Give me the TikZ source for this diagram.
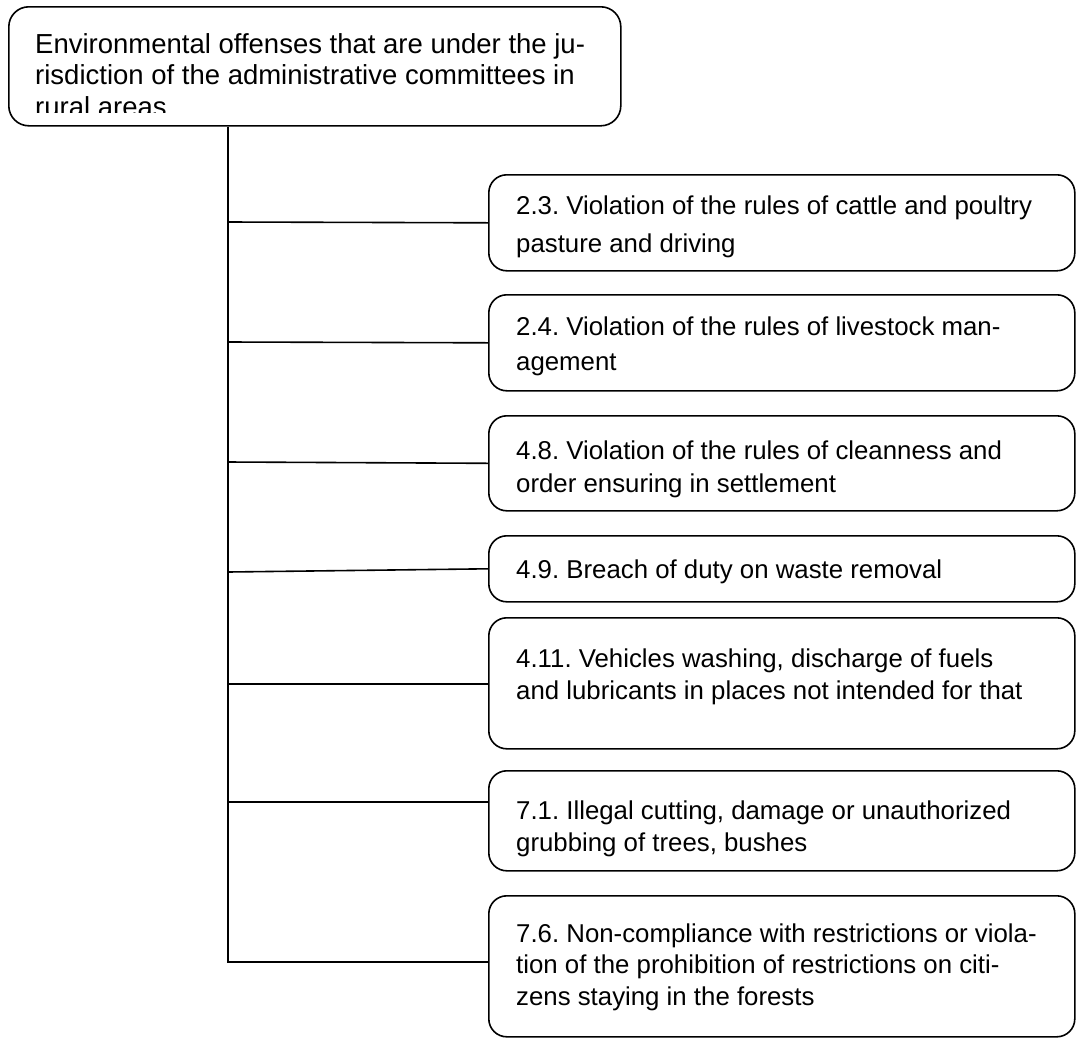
\documentclass[tikz,border=0pt]{standalone}
\usepackage{fontspec}
\setmainfont{Liberation Sans}
\begin{document}
\frenchspacing
\begin{tikzpicture}[x=1pt,y=-1pt,
  frame/.style={draw=black, line width=1.6pt, rounded corners=18pt, inner sep=0pt, anchor=north west},
  txt/.style={anchor=base west, inner sep=0pt, align=left, font=\fontsize{25.8}{31.3}\selectfont},
  wire/.style={draw=black, line width=1.6pt}]
\useasboundingbox (0,0) rectangle (1076,1037);
\fill[white] (0,0) rectangle (1076,1037);

% root box; its last text line is cut by the lower margin
\node[frame, rounded corners=20pt, minimum width=612pt, minimum height=119pt] (root) at (8,6) {};
\begin{scope}
  \clip (8,6) rectangle (620,112);
  \node[txt, font=\fontsize{27.5}{31.5}\selectfont] (roottext) at (35,116) {Environmental offenses that are under the ju-\\risdiction of the administrative committees in\\rural areas};
\end{scope}

% category boxes
\node[frame, minimum width=586pt, minimum height=96pt]  (b1) at (488,174) {};
\node[frame, minimum width=586pt, minimum height=96pt]  (b2) at (488,294) {};
\node[frame, minimum width=586pt, minimum height=95pt]  (b3) at (488,415) {};
\node[frame, minimum width=586pt, minimum height=66pt]  (b4) at (488,535) {};
\node[frame, minimum width=586pt, minimum height=131pt] (b5) at (488,617) {};
\node[frame, minimum width=586pt, minimum height=100pt] (b6) at (488,770) {};
\node[frame, minimum width=586pt, minimum height=141pt] (b7) at (488,895) {};

% texts, placed by the baseline of their last line
\node[txt, font=\fontsize{25.8}{38}\selectfont] (t1txt) at (516,252) {2.3. Violation of the rules of cattle and poultry\\pasture and driving};
\node[txt, font=\fontsize{25.8}{35}\selectfont] (t2txt) at (516,370) {2.4. Violation of the rules of livestock man-\\agement};
\node[txt, font=\fontsize{25.8}{33}\selectfont] (t3txt) at (516,492) {4.8. Violation of the rules of cleanness and\\order ensuring in settlement};
\node[txt] (t4txt) at (516,578) {4.9. Breach of duty on waste removal};
\node[txt] (t5txt) at (516,699) {4.11. Vehicles washing, discharge of fuels\\and lubricants in places not intended for that};
\node[txt] (t6txt) at (516,851) {7.1. Illegal cutting, damage or unauthorized\\grubbing of trees, bushes};
\node[txt] (t7txt) at (516,1005) {7.6. Non-compliance with restrictions or viola-\\tion of the prohibition of restrictions on citi-\\zens staying in the forests};

% trunk points
\coordinate (k1) at (228,222);
\coordinate (k2) at (228,342);
\coordinate (k3) at (228,462);
\coordinate (k4) at (228,572);
\coordinate (k5) at (228,684);
\coordinate (k6) at (228,802);
\coordinate (k7) at (228,962);

% connectors
\draw[wire] (root.south -| k1) -- (k7) -- (b7.west |- k7);
\draw[wire] (k1) -- (b1.west);
\draw[wire] (k2) -- (b2.west);
\draw[wire] (k3) -- (b3.west);
\draw[wire] (k4) -- (b4.west);
\draw[wire] (k5) -- (b5.west |- k5);
\draw[wire] (k6) -- (b6.west |- k6);
\end{tikzpicture}
\end{document}
